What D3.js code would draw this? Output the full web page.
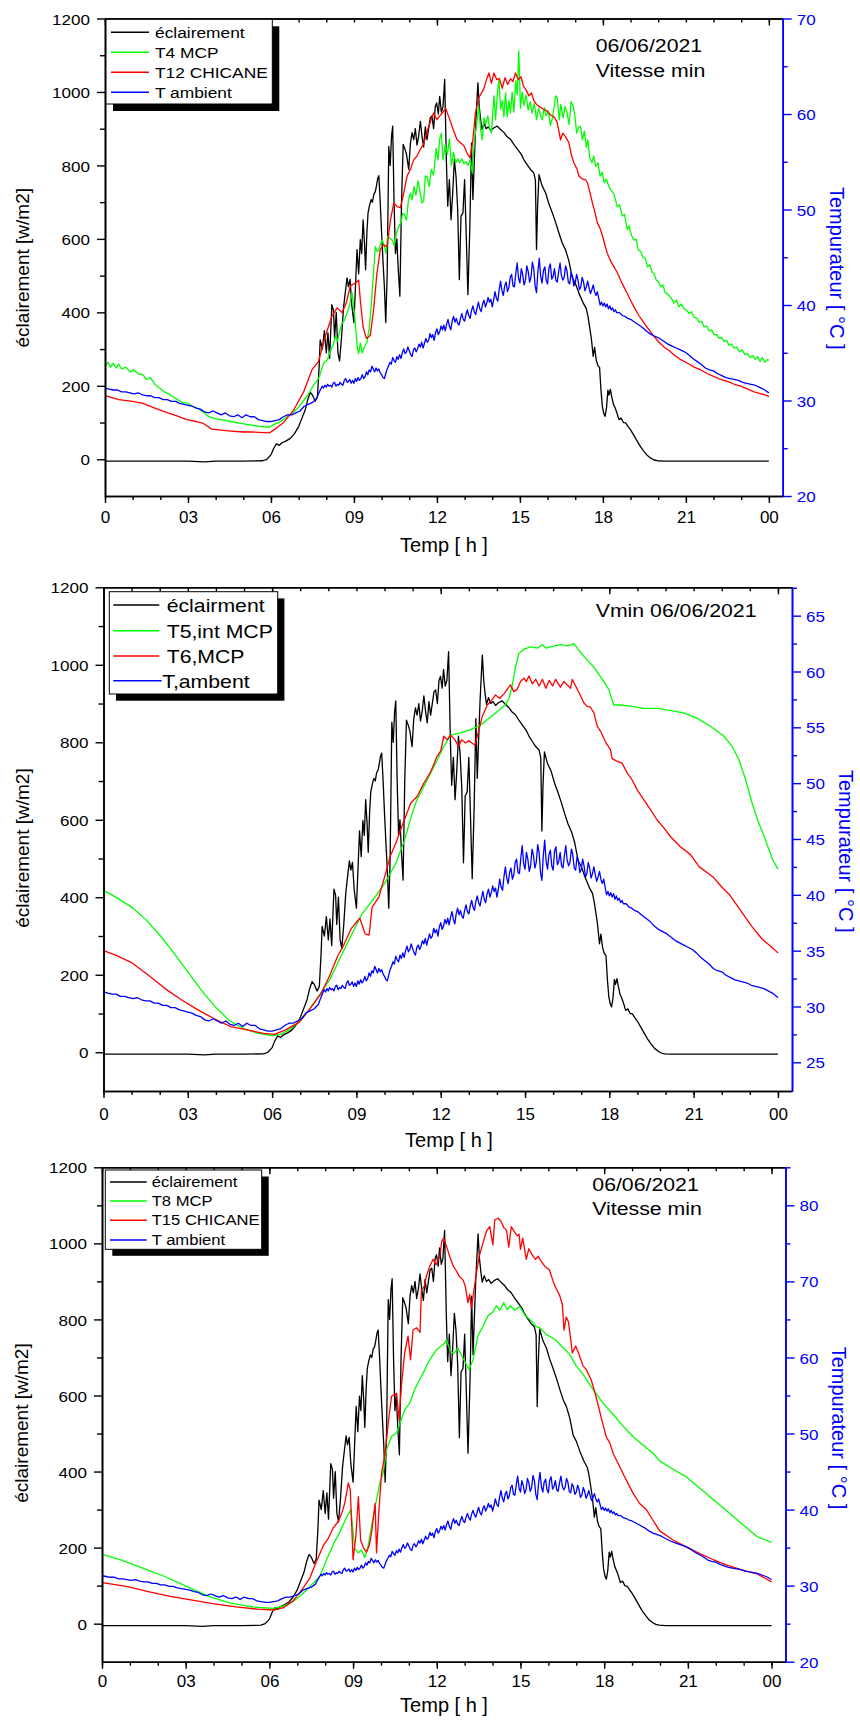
<!DOCTYPE html>
<html>
<head>
<meta charset="utf-8">
<script src="https://cdn.jsdelivr.net/npm/d3@7/dist/d3.min.js"></script>
<style>
  body { margin: 0; background: #fff; }
  svg text { font-family: "Liberation Sans", Arial, sans-serif; }
</style>
</head>
<body>
<svg id="chart" width="860" height="1720"></svg>
<script>
// ---- axis ticks and labels ----
const hourTicks = [0, 3, 6, 9, 12, 15, 18, 21, 24];
const hourLabels = ["0", "03", "06", "09", "12", "15", "18", "21", "00"];
const hourMinorTicks = [0,1,2,3,4,5,6,7,8,9,10,11,12,13,14,15,16,17,18,19,20,21,22,23,24];
const hourTopMajor = [0, 6, 12, 18, 24];
const irradianceTicks = [0, 200, 400, 600, 800, 1000, 1200];
const irradianceMinor = [100, 300, 500, 700, 900, 1100];
const tempTicks1 = [20, 30, 40, 50, 60, 70];
const tempMinor1 = [25, 35, 45, 55, 65];
const tempTicks2 = [25, 30, 35, 40, 45, 50, 55, 60, 65];
const tempMinor2 = [27.5, 32.5, 37.5, 42.5, 47.5, 52.5, 57.5, 62.5, 67.5];
const tempTicks3 = [20, 30, 40, 50, 60, 70, 80];
const tempMinor3 = [25, 35, 45, 55, 65, 75, 85];

const legend1 = ["éclairement", "T4 MCP", "T12 CHICANE", "T ambient"];
const legend2 = ["éclairment", "T5,int MCP", "T6,MCP", "T,ambent"];
const legend3 = ["éclairement", "T8 MCP", "T15 CHICANE", "T ambient"];

// ---- measured series: [hour, value] ----
// solar irradiance, W/m2 (same day for all three records)
const irradiance = [
[0,-5],[1,-5],[2,-5],[3,-5],[3.6,-7],[4,-5],[5,-5],[5.7,-4],[5.85,0],[6.0,12],[6.1,30],[6.2,42],[6.3,38],[6.4,45],[6.55,50],[6.7,57],[6.85,70],[7.0,89],[7.12,112],[7.24,135],[7.34,165],[7.42,182],[7.5,175],[7.6,158],[7.68,170],[7.74,250],[7.78,325],[7.86,300],[7.93,350],[8.0,290],[8.06,344],[8.12,275],[8.2,421],[8.26,405],[8.3,330],[8.36,400],[8.42,290],[8.48,268],[8.55,330],[8.62,410],[8.68,450],[8.75,494],[8.8,470],[8.86,490],[8.92,420],[9.0,372],[9.06,480],[9.11,571],[9.17,505],[9.23,598],[9.28,560],[9.33,652],[9.38,590],[9.42,516],[9.47,620],[9.51,671],[9.56,690],[9.62,707],[9.67,700],[9.72,722],[9.77,728],[9.81,743],[9.86,765],[9.9,772],[9.95,700],[10.0,616],[10.05,540],[10.1,470],[10.15,372],[10.2,500],[10.26,852],[10.31,800],[10.36,880],[10.4,907],[10.45,700],[10.5,560],[10.55,600],[10.6,520],[10.66,444],[10.72,700],[10.78,857],[10.84,845],[10.9,830],[10.98,789],[11.04,860],[11.1,889],[11.16,870],[11.22,900],[11.28,855],[11.34,880],[11.4,920],[11.46,880],[11.52,850],[11.58,905],[11.64,870],[11.7,900],[11.76,930],[11.82,935],[11.88,900],[11.94,960],[11.99,970],[12.05,940],[12.1,988],[12.16,945],[12.22,960],[12.28,1034],[12.34,816],[12.39,689],[12.45,761],[12.51,652],[12.57,725],[12.63,816],[12.69,770],[12.75,680],[12.81,489],[12.87,662],[12.94,671],[13.0,761],[13.06,607],[13.12,448],[13.19,634],[13.25,861],[13.3,707],[13.36,830],[13.4,907],[13.48,1025],[13.53,960],[13.58,925],[13.63,898],[13.7,915],[13.78,900],[13.86,905],[13.95,895],[14.05,902],[14.18,907],[14.3,898],[14.42,890],[14.54,878],[14.66,871],[14.8,855],[14.95,840],[15.05,830],[15.14,816],[15.26,802],[15.38,789],[15.5,780],[15.56,760],[15.6,571],[15.64,690],[15.69,775],[15.8,745],[15.93,725],[16.05,695],[16.17,671],[16.29,645],[16.41,616],[16.53,589],[16.65,570],[16.77,540],[16.89,495],[17.0,480],[17.13,453],[17.29,425],[17.4,410],[17.46,389],[17.52,360],[17.58,330],[17.65,280],[17.7,305],[17.76,270],[17.82,255],[17.88,250],[17.93,189],[17.98,144],[18.03,125],[18.08,117],[18.13,140],[18.18,188],[18.22,175],[18.27,190],[18.32,170],[18.38,150],[18.44,140],[18.5,128],[18.58,108],[18.66,112],[18.74,100],[18.82,99],[18.9,90],[19.0,80],[19.12,65],[19.25,48],[19.37,33],[19.49,21],[19.61,10],[19.73,3],[19.85,-2],[19.97,-4],[20.2,-5],[21,-5],[22,-5],[23,-5],[24,-5]
];

// ambient air temperature, °C (same day for all three records)
const ambient = [
[0,31.3],[0.15,31.2],[0.3,31.1],[0.45,31.1],[0.6,30.9],[0.75,30.9],[0.9,30.8],[1.05,30.7],[1.2,30.8],[1.35,30.6],[1.5,30.5],[1.65,30.5],[1.8,30.3],[1.95,30.3],[2.1,30.1],[2.25,30.1],[2.4,29.9],[2.55,29.9],[2.7,29.7],[2.85,29.6],[3.0,29.5],[3.15,29.4],[3.3,29.2],[3.45,29.1],[3.6,28.8],[3.75,28.7],[3.9,28.9],[4.05,28.7],[4.2,28.5],[4.35,28.7],[4.5,28.4],[4.65,28.3],[4.8,28.5],[4.95,28.2],[5.1,28.5],[5.25,28.3],[5.4,28.3],[5.55,28.0],[5.7,27.9],[5.85,27.8],[6.0,27.8],[6.15,27.9],[6.3,28.0],[6.45,28.3],[6.6,28.5],[6.75,28.5],[6.9,28.7],[7.05,28.9],[7.2,29.4],[7.35,29.6],[7.5,29.8],[7.65,30.2],[7.72,30.7],
[7.8,31.2],[7.85,31.5],[7.9,31.3],[7.95,31.6],[8.0,31.4],[8.05,31.7],[8.1,31.5],[8.15,31.6],[8.2,31.4],[8.25,31.8],[8.3,31.9],[8.35,31.5],[8.4,31.7],[8.45,31.6],[8.5,31.9],[8.55,31.7],[8.6,31.6],[8.65,32.1],[8.7,32.3],[8.75,31.9],[8.8,32.0],[8.85,32.2],[8.9,31.8],[8.95,32.1],[9.0,31.8],[9.05,32.3],[9.1,32.0],[9.15,32.4],[9.2,32.1],[9.25,32.3],[9.3,32.7],[9.35,32.3],[9.4,32.5],[9.45,33.0],[9.5,32.7],[9.55,33.2],[9.6,33.0],[9.65,33.6],[9.7,33.3],[9.75,33.0],[9.8,33.4],[9.85,33.1],[9.9,33.3],[9.95,32.9],[10.0,32.7],[10.05,32.4],[10.1,32.3],[10.15,32.8],[10.2,33.3],[10.25,33.6],[10.3,34.0],[10.35,33.8],[10.4,34.5],[10.45,34.2],[10.5,34.0],[10.55,34.6],[10.6,34.3],[10.65,34.8],[10.7,34.4],[10.75,35.0],[10.8,35.4],[10.85,34.9],[10.9,35.1],[10.95,35.6],[11.0,35.2],[11.05,34.8],[11.1,34.6],[11.15,35.3],[11.2,35.5],[11.25,35.1],[11.3,35.4],[11.35,35.9],[11.4,35.6],[11.45,36.1],[11.5,35.5],[11.55,36.0],[11.6,36.5],[11.65,36.1],[11.7,36.3],[11.75,37.0],[11.8,36.6],[11.85,36.9],[11.9,36.3],[11.95,37.1],[12.0,37.5],[12.05,36.9],[12.1,37.2],[12.15,37.8],[12.2,37.4],[12.25,37.9],[12.3,37.3],[12.35,38.0],[12.4,38.5],[12.45,37.8],[12.5,37.4],[12.55,38.3],[12.6,38.8],[12.65,38.2],[12.7,38.6],[12.75,38.1],[12.8,37.9],[12.85,38.6],[12.9,39.1],[12.95,38.5],[13.0,38.3],[13.05,39.0],[13.1,39.5],[13.15,38.9],[13.2,38.6],[13.25,39.4],[13.3,39.9],[13.35,39.3],[13.4,39.0],[13.45,39.7],[13.5,40.3],[13.55,39.6],[13.6,39.3],[13.65,40.1],[13.7,40.5],[13.75,39.8],[13.8,40.2],[13.85,40.8],[13.9,40.3],[13.95,40.6],[14.0,39.8],[14.05,40.5],[14.1,41.4],[14.15,40.7],[14.2,40.4],[14.25,41.6],[14.3,42.5],[14.35,41.5],[14.4,41.0],[14.45,42.0],[14.5,42.4],[14.55,41.4],[14.6,41.8],[14.65,42.9],[14.7,43.2],[14.75,42.0],[14.8,41.9],[14.85,43.3],[14.9,44.4],[14.95,42.8],[15.0,42.3],[15.05,43.8],[15.1,43.2],[15.15,42.1],[15.2,42.6],[15.25,44.1],[15.3,43.5],[15.35,42.4],[15.4,42.9],[15.45,44.5],[15.5,43.8],[15.55,42.0],[15.6,41.3],[15.65,43.5],[15.7,44.9],[15.75,43.0],[15.8,42.3],[15.85,43.6],[15.9,44.0],[15.95,42.6],[16.0,42.2],[16.05,43.9],[16.1,44.3],[16.15,42.7],[16.2,43.0],[16.25,43.8],[16.3,42.6],[16.35,42.4],[16.4,43.5],[16.45,44.4],[16.5,43.1],[16.55,42.6],[16.6,42.9],[16.65,44.1],[16.7,43.6],[16.75,42.4],[16.8,42.2],[16.85,43.4],[16.9,43.0],[16.95,42.0],[17.0,42.3],[17.05,43.2],[17.1,42.6],[17.15,41.6],[17.2,41.9],[17.25,42.9],[17.3,42.4],[17.35,41.5],[17.4,41.9],[17.45,42.5],[17.5,41.8],[17.55,41.2],[17.6,41.6],[17.65,42.1],[17.7,41.4],[17.75,41.0],[17.8,41.4],[17.85,40.7],[17.9,40.0],[17.95,40.3],[18.0,39.9],[18.05,40.2],[18.1,39.8],[18.15,40.1],[18.2,39.6],[18.25,39.9],[18.3,39.5],[18.35,39.7],[18.4,39.3],[18.45,39.5],[18.5,39.2],[18.6,39.2],[18.7,38.9],[18.8,38.8],[18.9,38.6],
[19.0,38.5],[19.15,38.2],[19.3,37.9],[19.45,37.6],[19.6,37.2],[19.75,36.9],[19.9,36.7],[20.05,36.5],[20.2,36.2],[20.35,35.9],[20.5,35.7],[20.65,35.5],[20.8,35.3],[20.95,35.1],[21.1,34.8],[21.25,34.4],[21.4,34.1],[21.55,33.8],[21.7,33.4],[21.85,33.2],[22.0,33.1],[22.15,32.8],[22.3,32.6],[22.45,32.4],[22.6,32.3],[22.75,32.2],[22.9,32.1],[23.05,31.9],[23.2,31.8],[23.35,31.7],[23.5,31.6],[23.65,31.4],[23.8,31.2],[23.9,31.0],[24.0,30.8]
];

// record 1 : T4 MCP, T12 CHICANE (°C)
const t4Mcp = [
[0,33.6],[0.1,34.0],[0.2,33.5],[0.3,33.9],[0.4,33.4],[0.5,33.8],[0.6,33.3],[0.76,33.5],[0.9,33.0],[1.05,33.2],[1.2,32.8],[1.37,32.7],[1.5,32.2],[1.65,32.4],[1.8,31.7],[1.97,31.3],[2.15,30.9],[2.3,30.7],[2.56,30.2],[2.8,29.8],[3.0,29.7],[3.16,29.4],[3.4,29.1],[3.6,28.7],[3.76,28.3],[3.96,28.1],[4.2,28.0],[4.55,27.8],[4.9,27.6],[5.35,27.4],[5.6,27.3],[5.94,27.2],[6.1,27.5],[6.3,27.7],[6.54,28.2],[6.82,28.8],[7.0,29.3],[7.18,30.0],[7.34,30.6],[7.54,31.6],[7.74,32.4],[7.9,33.9],[8.05,34.3],[8.14,35.2],[8.25,35.8],[8.33,36.7],[8.4,36.2],[8.48,37.2],[8.57,38.1],[8.66,38.4],[8.75,39.2],[8.85,40.0],[8.93,41.3],[9.0,39.5],[9.05,38.1],[9.12,35.5],[9.17,34.9],[9.23,36.0],[9.3,35.0],[9.38,35.6],[9.47,36.1],[9.55,37.5],[9.62,39.8],[9.7,43.0],[9.77,46.1],[9.84,45.6],[9.89,45.7],[9.95,46.3],[10.02,46.8],[10.1,46.2],[10.16,45.4],[10.22,47.2],[10.3,47.0],[10.38,46.8],[10.46,46.2],[10.54,47.6],[10.62,48.2],[10.7,48.6],[10.76,49.6],[10.82,49.5],[10.9,48.9],[10.97,51.0],[11.04,51.7],[11.1,51.0],[11.17,52.4],[11.24,51.5],[11.32,53.0],[11.4,51.7],[11.46,50.7],[11.52,50.9],[11.58,53.5],[11.64,53.5],[11.72,52.4],[11.8,54.2],[11.87,53.6],[11.91,54.5],[11.97,56.4],[12.04,55.2],[12.1,57.4],[12.16,58.0],[12.22,55.2],[12.3,56.8],[12.38,55.8],[12.45,57.4],[12.52,54.6],[12.6,56.0],[12.68,54.9],[12.75,55.3],[12.82,54.9],[12.9,55.3],[12.97,54.8],[13.05,55.0],[13.12,54.6],[13.2,55.2],[13.28,53.8],[13.35,57.2],[13.42,58.6],[13.51,60.8],[13.58,58.4],[13.64,57.3],[13.7,59.6],[13.76,58.9],[13.84,59.8],[13.9,58.6],[13.97,58.0],[14.06,61.9],[14.12,59.4],[14.18,61.9],[14.24,63.7],[14.3,60.5],[14.36,61.4],[14.42,59.7],[14.48,62.2],[14.54,59.7],[14.6,61.4],[14.66,60.1],[14.72,62.3],[14.78,60.2],[14.85,63.5],[14.9,62.0],[14.96,66.6],[15.02,60.6],[15.08,62.3],[15.15,60.9],[15.22,62.0],[15.3,60.4],[15.37,61.3],[15.44,60.1],[15.52,61.1],[15.6,59.4],[15.68,60.6],[15.75,59.8],[15.81,59.4],[15.88,60.7],[15.95,59.8],[16.03,60.3],[16.1,58.8],[16.17,59.5],[16.23,60.6],[16.29,61.9],[16.35,61.7],[16.42,59.4],[16.48,61.0],[16.56,59.6],[16.63,60.8],[16.7,60.2],[16.78,58.9],[16.85,61.3],[16.93,60.8],[17.0,59.5],[17.05,58.0],[17.12,58.6],[17.19,58.7],[17.26,57.3],[17.33,58.2],[17.4,56.5],[17.46,57.3],[17.52,55.5],[17.6,54.9],[17.67,55.6],[17.74,54.5],[17.82,54.9],[17.9,53.5],[17.97,53.9],[18.05,52.8],[18.12,53.2],[18.22,52.4],[18.3,52.0],[18.4,51.6],[18.52,50.3],[18.6,50.5],[18.7,49.3],[18.78,49.5],[18.88,47.9],[18.95,48.3],[19.03,47.3],[19.12,46.8],[19.2,46.9],[19.28,45.8],[19.37,45.6],[19.45,45.0],[19.53,44.9],[19.61,44.0],[19.7,44.2],[19.78,43.4],[19.85,43.3],[19.93,42.6],[20.01,42.4],[20.09,41.9],[20.17,42.1],[20.25,41.3],[20.33,41.2],[20.41,40.9],[20.5,40.6],[20.57,40.2],[20.66,40.5],[20.75,39.8],[20.84,40.1],[20.93,39.6],[21.02,39.5],[21.12,39.1],[21.2,39.3],[21.3,38.7],[21.4,38.6],[21.48,38.2],[21.57,38.3],[21.66,37.7],[21.75,37.8],[21.84,37.3],[21.93,37.4],[22.02,36.9],[22.12,36.9],[22.2,36.5],[22.29,36.6],[22.38,36.2],[22.47,36.3],[22.56,35.8],[22.65,35.9],[22.74,35.5],[22.84,35.6],[22.93,35.1],[23.03,35.3],[23.13,34.8],[23.23,34.9],[23.32,34.5],[23.42,34.7],[23.5,34.3],[23.59,34.6],[23.68,34.1],[23.77,34.5],[23.86,34.0],[23.95,34.3],[24.0,34.2]
];

const t12Chicane = [
[0,30.5],[0.5,30.1],[1.0,29.9],[1.37,29.7],[1.8,29.2],[2.17,28.8],[2.6,28.4],[2.96,28.0],[3.3,27.8],[3.56,27.6],[3.7,27.3],[3.86,27.0],[4.2,26.9],[4.55,26.8],[5.0,26.7],[5.35,26.7],[5.94,26.6],[6.14,27.0],[6.46,27.7],[6.82,29.0],[7.18,30.9],[7.48,33.2],[7.72,34.1],[7.96,36.7],[8.2,38.8],[8.39,39.7],[8.57,39.2],[8.72,40.2],[8.87,42.0],[9.05,42.3],[9.17,42.6],[9.23,40.5],[9.33,37.7],[9.45,36.5],[9.59,36.8],[9.71,39.5],[9.83,43.3],[9.95,45.8],[10.07,46.3],[10.2,46.1],[10.32,48.9],[10.44,50.7],[10.56,50.3],[10.68,50.2],[10.8,51.7],[10.92,53.5],[11.04,54.2],[11.16,55.2],[11.28,55.6],[11.4,56.3],[11.52,56.9],[11.7,58.7],[11.88,60.1],[12.0,59.4],[12.1,59.8],[12.19,60.1],[12.31,60.6],[12.43,59.7],[12.61,58.2],[12.73,57.3],[12.85,57.0],[12.97,56.7],[13.09,55.9],[13.2,55.4],[13.3,57.3],[13.39,60.1],[13.51,61.7],[13.69,62.6],[13.8,63.7],[13.88,64.3],[13.97,63.2],[14.06,64.3],[14.16,63.6],[14.26,63.7],[14.36,62.7],[14.46,63.8],[14.56,63.1],[14.66,63.7],[14.75,63.4],[14.84,64.3],[14.94,63.6],[15.04,63.9],[15.13,62.9],[15.23,62.5],[15.32,61.9],[15.42,62.2],[15.5,61.4],[15.6,61.0],[15.69,60.8],[15.85,60.5],[15.99,60.3],[16.1,59.9],[16.23,59.7],[16.34,59.2],[16.47,57.3],[16.55,58.0],[16.65,57.6],[16.77,57.0],[16.86,55.7],[16.95,54.9],[17.07,54.2],[17.13,53.5],[17.25,53.2],[17.38,53.1],[17.44,52.8],[17.53,51.8],[17.62,50.7],[17.72,49.6],[17.8,48.6],[17.9,48.0],[17.98,47.3],[18.08,46.2],[18.16,45.4],[18.28,44.6],[18.4,44.0],[18.52,43.4],[18.64,42.6],[18.76,41.9],[18.88,41.2],[19.0,40.5],[19.12,39.8],[19.3,38.9],[19.49,38.1],[19.67,37.4],[19.85,36.7],[20.03,36.1],[20.21,35.6],[20.4,35.2],[20.57,34.8],[20.8,34.3],[21.06,33.9],[21.3,33.5],[21.54,33.2],[21.78,32.8],[22.02,32.5],[22.26,32.2],[22.5,32.0],[22.75,31.7],[22.99,31.5],[23.23,31.2],[23.47,30.9],[23.71,30.7],[23.95,30.5],[24,30.4]
];

// record 2 : T5 inside MCP, T6 MCP (°C)
const t5IntMcp = [
[0,40.4],[0.5,39.7],[1,38.9],[1.5,37.8],[2,36.4],[2.5,34.8],[3,33.1],[3.5,31.4],[4,29.9],[4.5,28.7],[5,28.0],[5.5,27.6],[6,27.4],[6.3,27.5],[6.6,27.9],[6.9,28.5],[7.25,29.5],[7.65,30.9],[8.05,32.4],[8.45,34.5],[8.8,36.3],[9.2,38.3],[9.6,39.6],[10.0,41.0],[10.4,42.8],[10.7,44.8],[10.95,47.0],[11.15,48.5],[11.4,49.7],[11.64,50.9],[11.88,52.1],[12.11,53.3],[12.35,54.3],[12.7,54.5],[13.06,54.8],[13.42,55.2],[13.71,55.8],[14.01,56.4],[14.25,56.9],[14.42,57.5],[14.54,58.7],[14.66,60.4],[14.78,61.6],[14.96,62.0],[15.2,62.2],[15.44,62.1],[15.62,62.4],[15.74,62.1],[15.91,62.2],[16.26,62.4],[16.5,62.3],[16.74,62.5],[16.92,61.9],[17.15,61.2],[17.45,60.4],[17.75,59.3],[17.98,58.4],[18.16,57.0],[18.4,57.0],[18.75,56.9],[19.23,56.7],[19.71,56.7],[20.18,56.5],[20.65,56.3],[21.13,55.8],[21.6,55.1],[22.08,54.2],[22.37,53.3],[22.61,52.1],[22.85,50.3],[23.08,48.2],[23.32,46.4],[23.56,44.9],[23.8,43.2],[24,42.3]
];

const t6Mcp = [
[0,35.0],[0.43,34.6],[1.02,33.9],[1.6,32.8],[2.19,31.6],[2.77,30.6],[3.36,29.7],[3.94,28.9],[4.53,28.2],[5.11,27.9],[5.7,27.6],[6.09,27.5],[6.48,27.9],[6.97,28.6],[7.35,29.8],[7.75,31.2],[8.04,32.7],[8.33,34.5],[8.53,35.4],[8.82,37.0],[9.12,37.9],[9.2,37.3],[9.31,36.5],[9.45,36.4],[9.56,38.9],[9.8,39.8],[9.99,41.5],[10.21,43.5],[10.4,44.6],[10.57,45.8],[10.75,47.0],[10.93,48.2],[11.16,48.8],[11.4,50.0],[11.64,51.0],[11.87,52.4],[12.0,52.9],[12.11,54.2],[12.23,53.9],[12.35,54.3],[12.5,53.9],[12.64,53.3],[12.75,53.9],[12.88,53.6],[13.0,53.8],[13.11,53.6],[13.22,53.4],[13.36,54.8],[13.48,56.0],[13.66,57.0],[13.8,57.4],[13.95,57.9],[14.1,57.6],[14.25,58.0],[14.48,58.8],[14.6,58.2],[14.72,58.4],[14.84,59.1],[14.96,59.4],[15.05,59.1],[15.14,59.6],[15.26,58.9],[15.38,59.3],[15.5,58.7],[15.62,59.3],[15.74,58.5],[15.86,59.2],[15.98,58.7],[16.09,59.3],[16.26,58.6],[16.38,59.1],[16.5,58.8],[16.62,58.5],[16.68,59.3],[16.8,58.7],[16.98,57.8],[17.09,57.2],[17.2,56.9],[17.33,56.8],[17.45,56.3],[17.57,55.1],[17.7,54.6],[17.86,53.7],[18.04,53.0],[18.1,52.2],[18.25,52.0],[18.45,51.8],[18.64,50.9],[18.81,50.3],[18.99,49.4],[19.23,48.5],[19.47,47.6],[19.7,46.7],[19.94,46.0],[20.18,45.2],[20.53,44.3],[20.89,43.6],[21.2,42.5],[21.69,41.6],[22.0,40.7],[22.28,40.0],[22.67,38.6],[23.06,37.2],[23.45,36.0],[23.74,35.4],[24,34.8]
];

// record 3 : T8 MCP, T15 CHICANE (°C)
const t8Mcp = [
[0,34.1],[0.67,33.4],[1.46,32.3],[2.25,31.2],[3.03,29.9],[3.82,28.6],[4.61,27.7],[5.4,27.2],[6.14,27.0],[6.5,27.3],[6.85,27.9],[7.21,29.0],[7.51,30.1],[7.81,31.2],[8.05,33.4],[8.29,35.4],[8.53,37.1],[8.77,39.0],[8.92,40.0],[9.0,37.0],[9.06,34.9],[9.18,34.3],[9.3,34.7],[9.42,33.7],[9.54,35.2],[9.66,37.8],[9.84,41.3],[9.96,43.5],[10.08,44.8],[10.2,47.9],[10.38,49.6],[10.56,50.1],[10.68,51.3],[10.85,53.1],[11.03,54.0],[11.21,55.8],[11.39,57.1],[11.57,58.4],[11.75,59.7],[11.99,61.0],[12.23,61.7],[12.35,62.3],[12.47,61.0],[12.6,60.5],[12.76,61.2],[12.94,59.9],[13.16,58.4],[13.3,59.7],[13.48,62.9],[13.66,64.1],[13.84,65.5],[14.0,65.9],[14.14,66.8],[14.26,66.2],[14.4,67.2],[14.52,66.3],[14.64,66.8],[14.79,66.2],[14.97,66.7],[15.15,65.6],[15.39,64.8],[15.55,64.1],[15.69,63.9],[15.93,63.0],[16.23,62.4],[16.47,61.5],[16.76,60.4],[17.0,58.9],[17.24,57.8],[17.6,55.8],[17.96,54.0],[18.32,52.5],[18.67,51.0],[19.03,49.6],[19.39,48.5],[19.75,47.4],[19.99,46.4],[20.47,45.3],[20.94,44.3],[21.43,42.8],[21.92,41.3],[22.4,39.8],[22.91,38.2],[23.5,36.4],[24,35.7]
];

const t15Chicane = [
[0,30.4],[0.87,29.9],[1.66,29.2],[2.45,28.6],[3.23,28.1],[4.02,27.6],[4.81,27.2],[5.59,26.9],[6.18,26.8],[6.5,27.1],[6.85,28.0],[7.21,29.7],[7.45,31.0],[7.69,33.2],[7.94,35.3],[8.11,36.2],[8.29,37.6],[8.48,38.5],[8.6,39.6],[8.7,40.8],[8.83,43.5],[8.9,42.6],[9.0,33.4],[9.1,36.5],[9.19,41.7],[9.27,36.0],[9.37,35.0],[9.48,34.4],[9.58,35.3],[9.66,36.9],[9.79,40.8],[9.84,34.3],[9.92,39.5],[10.02,44.8],[10.15,47.4],[10.26,51.4],[10.38,54.9],[10.56,55.3],[10.65,51.8],[10.73,56.2],[10.85,60.6],[10.97,62.8],[11.06,59.7],[11.15,63.6],[11.28,63.9],[11.4,63.3],[11.45,68.9],[11.55,69.3],[11.63,70.7],[11.75,72.0],[11.87,72.9],[11.98,72.2],[12.11,73.3],[12.18,75.3],[12.25,75.7],[12.35,74.6],[12.47,73.2],[12.59,72.0],[12.7,71.4],[12.82,70.6],[12.94,70.2],[13.02,69.4],[13.12,67.2],[13.18,68.3],[13.24,66.5],[13.3,68.0],[13.42,71.1],[13.52,73.3],[13.66,75.1],[13.78,76.6],[13.9,77.2],[14.01,74.8],[14.08,78.1],[14.2,78.3],[14.3,77.9],[14.4,77.1],[14.5,76.7],[14.58,74.5],[14.67,77.2],[14.77,76.6],[14.88,76.0],[14.95,76.2],[15.0,74.2],[15.08,75.7],[15.21,72.9],[15.3,74.3],[15.4,73.6],[15.54,72.9],[15.63,73.3],[15.75,72.6],[15.87,72.0],[16.04,71.5],[16.17,70.0],[16.3,68.9],[16.4,68.2],[16.5,67.0],[16.56,63.6],[16.64,65.3],[16.72,64.7],[16.86,60.6],[16.98,61.5],[17.1,60.4],[17.24,58.9],[17.36,58.4],[17.54,57.0],[17.72,54.7],[17.9,52.0],[18.08,49.5],[18.2,48.8],[18.32,47.4],[18.55,45.7],[18.79,43.9],[19.03,42.2],[19.27,40.8],[19.51,40.0],[19.75,38.6],[19.99,37.2],[20.47,36.0],[20.94,35.1],[21.43,34.2],[21.92,33.4],[22.4,32.7],[22.91,32.1],[23.5,31.5],[24,30.5]
];

// ---- drawing ----
const svg = d3.select("#chart");
const COLORS = ["#000000", "#00ff00", "#ff0000", "#0000ff"];
const BLUE = "#0000ff";

// text with an optional horizontal stretch
function addText(g, txt, x, y, o) {
  const k = o.k || 1;
  const rot = o.rotate ? ` rotate(${o.rotate})` : "";
  return g.append("text")
    .attr("transform", `translate(${x},${y})${rot} scale(${k},1)`)
    .attr("font-size", o.size)
    .attr("fill", o.color || "#000")
    .attr("text-anchor", o.anchor || "start")
    .text(txt);
}

function styleAxis(sel, color) {
  sel.attr("color", color).attr("font-family", null).attr("font-size", null);
  sel.selectAll(".domain").attr("stroke-width", 1.6);
  sel.selectAll(".tick line").attr("stroke-width", 1.4);
  return sel;
}

function drawPanel(p) {
  const g = svg.append("g");
  const x = d3.scaleLinear().domain([0, 24.5]).range([p.left, p.right]);
  const yL = d3.scaleLinear().domain([-100, 1200]).range([p.bottom, p.top]);
  const yR = d3.scaleLinear().domain(p.tempDomain).range([p.bottom, p.top]);

  // data lines
  const lineL = d3.line().x(d => x(d[0])).y(d => yL(d[1]));
  const lineR = d3.line().x(d => x(d[0])).y(d => yR(d[1]));
  const series = [irradiance, p.temps[0], p.temps[1], ambient];
  series.forEach((s, i) => {
    g.append("path").datum(s)
      .attr("d", i === 0 ? lineL : lineR)
      .attr("fill", "none")
      .attr("stroke", COLORS[i])
      .attr("stroke-width", 1.3)
      .attr("stroke-linejoin", "round");
  });

  // bottom axis
  styleAxis(g.append("g").attr("transform", `translate(0,${p.bottom})`)
    .call(d3.axisBottom(x).tickValues(hourMinorTicks).tickSize(4).tickSizeOuter(0).tickFormat("")), "#000");
  const bx = styleAxis(g.append("g").attr("transform", `translate(0,${p.bottom})`)
    .call(d3.axisBottom(x).tickValues(hourTicks).tickSize(7).tickSizeOuter(0)
      .tickFormat((d, i) => hourLabels[i])), "#000");
  bx.selectAll(".tick text").attr("y", p.xLabelY).attr("dy", 0).attr("font-size", 17);

  // top axis (ticks pointing into the frame)
  styleAxis(g.append("g").attr("transform", `translate(0,${p.top})`)
    .call(d3.axisBottom(x).tickValues(hourMinorTicks).tickSize(4).tickSizeOuter(0).tickFormat("")), "#000");
  styleAxis(g.append("g").attr("transform", `translate(0,${p.top})`)
    .call(d3.axisBottom(x).tickValues(hourTopMajor).tickSize(7).tickSizeOuter(0).tickFormat("")), "#000");

  // left axis, irradiance
  styleAxis(g.append("g").attr("transform", `translate(${p.left},0)`)
    .call(d3.axisLeft(yL).tickValues(irradianceMinor).tickSize(5).tickSizeOuter(0).tickFormat("")), "#000");
  const lx = styleAxis(g.append("g").attr("transform", `translate(${p.left},0)`)
    .call(d3.axisLeft(yL).tickValues(irradianceTicks).tickSize(8).tickSizeOuter(0).tickFormat(d3.format("d"))), "#000");
  lx.selectAll(".tick text").attr("x", -15 / p.tickK).attr("dy", "0.36em")
    .attr("transform", `scale(${p.tickK},1)`).attr("font-size", 15.5);

  // right axis, temperature
  styleAxis(g.append("g").attr("transform", `translate(${p.right},0)`)
    .call(d3.axisRight(yR).tickValues(p.tempMinor).tickSize(5).tickSizeOuter(0).tickFormat("")), BLUE);
  const rx = styleAxis(g.append("g").attr("transform", `translate(${p.right},0)`)
    .call(d3.axisRight(yR).tickValues(p.tempTicks).tickSize(9).tickSizeOuter(0).tickFormat(d3.format("d"))), BLUE);
  rx.selectAll(".tick text").attr("x", 14 / p.tickK).attr("dy", "0.36em")
    .attr("transform", `scale(${p.tickK},1)`).attr("font-size", 15.5);

  // axis titles
  addText(g, "Temp [ h ]", p.xTitle[0], p.xTitle[1], { size: 20, anchor: "middle" });
  addText(g, "éclairement [w/m2]", p.yTitle[0], p.yTitle[1], { size: 19, anchor: "end", rotate: -90 });
  addText(g, "Tempurateur [ °C ]", p.rTitle[0], p.rTitle[1], { size: 20, rotate: 90, color: BLUE });

  // annotation
  p.notes.forEach(n => addText(g, n[0], n[1], n[2], { size: 19, k: 1.12 }));

  // legend with drop shadow
  const L = p.legend;
  const lg = g.append("g");
  lg.append("rect").attr("x", L.x + L.dx).attr("y", L.y + L.dy).attr("width", L.w).attr("height", L.h).attr("fill", "#000");
  lg.append("rect").attr("x", L.x).attr("y", L.y).attr("width", L.w).attr("height", L.h)
    .attr("fill", "#fff").attr("stroke", "#000").attr("stroke-width", 1);
  p.labels.forEach((t, i) => {
    lg.append("line").attr("x1", L.lx1).attr("x2", L.lx2[i]).attr("y1", L.rows[i]).attr("y2", L.rows[i])
      .attr("stroke", COLORS[i]).attr("stroke-width", 1.4);
    addText(lg, t, L.tx[i], L.rows[i] + L.base, { size: L.size, k: L.k });
  });
}

drawPanel({
  left: 105, right: 782.7, top: 18.5, bottom: 496,
  tempDomain: [20, 70], tempTicks: tempTicks1, tempMinor: tempMinor1,
  temps: [t4Mcp, t12Chicane], labels: legend1, tickK: 1.1,
  xLabelY: 26.7, xTitle: [444, 551.5], yTitle: [29, 188], rTitle: [830, 187],
  notes: [["06/06/2021", 595.7, 52], ["Vitesse min", 595.7, 77]],
  legend: { x: 106, y: 19.3, w: 166.3, h: 84.7, dx: 7, dy: 7,
    rows: [32.3, 52.3, 72.3, 92.3], lx1: 111, lx2: [149, 149, 149, 149],
    tx: [155, 155, 155, 155], size: 15.5, k: 1.12, base: 6 }
});

drawPanel({
  left: 103.5, right: 792, top: 587.3, bottom: 1091,
  tempDomain: [22.43, 67.54], tempTicks: tempTicks2, tempMinor: tempMinor2,
  temps: [t5IntMcp, t6Mcp], labels: legend2, tickK: 1.1,
  xLabelY: 29, xTitle: [449, 1147], yTitle: [29, 768.3], rTitle: [839, 770],
  notes: [["Vmin 06/06/2021", 595.7, 617.3]],
  legend: { x: 109.3, y: 591.7, w: 168.4, h: 102.3, dx: 6.7, dy: 6.7,
    rows: [605, 630.7, 656, 680.7], lx1: 113.3, lx2: [159.3, 159.3, 159.3, 161.7],
    tx: [166.7, 166.7, 166.7, 162.3], size: 18, k: 1.18, base: 7 }
});

drawPanel({
  left: 102, right: 785.5, top: 1167.3, bottom: 1661.7,
  tempDomain: [20, 85], tempTicks: tempTicks3, tempMinor: tempMinor3,
  temps: [t8Mcp, t15Chicane], labels: legend3, tickK: 1.1,
  xLabelY: 25.6, xTitle: [444, 1711.7], yTitle: [28, 1343.3], rTitle: [831.7, 1346.7],
  notes: [["06/06/2021", 592.3, 1190.7], ["Vitesse min", 592.3, 1215]],
  legend: { x: 105.3, y: 1170, w: 156.4, h: 79.3, dx: 7, dy: 6.5,
    rows: [1182, 1201, 1220.3, 1240], lx1: 110, lx2: [146.7, 146.7, 146.7, 146.7],
    tx: [151.7, 151.7, 151.7, 151.7], size: 15.5, k: 1.07, base: 5 }
});
</script>
</body>
</html>
